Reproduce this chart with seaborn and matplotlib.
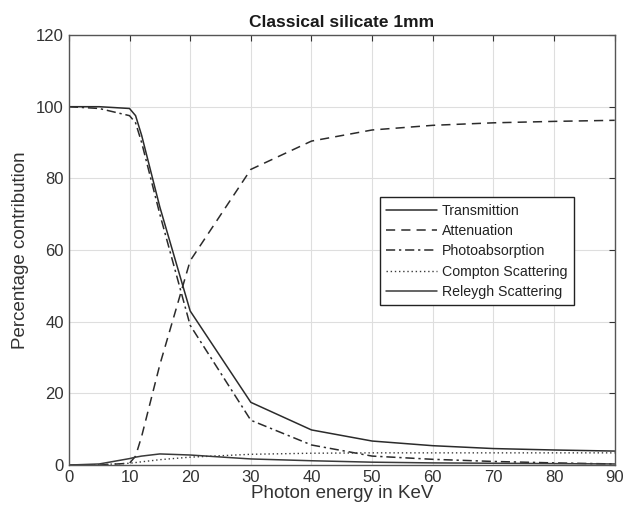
import matplotlib
matplotlib.use("Agg")
import matplotlib.pyplot as plt
import seaborn as sns
import pandas as pd

energy = [0, 5, 10, 11, 12, 15, 20, 30, 40, 50, 60, 70, 80, 90]
transmission = [100, 100, 99.5, 97.5, 92, 72, 43, 17.5, 9.8, 6.7, 5.4, 4.6, 4.2, 3.9]
attenuation = [0, 0, 0.5, 2.5, 8, 28, 57, 82.5, 90.4, 93.5, 94.8, 95.5, 95.9, 96.2]
photoabsorption = [100, 99.5, 97.5, 95.5, 90, 70, 39, 12.5, 5.6, 2.5, 1.6, 1.0, 0.6, 0.3]
compton = [0, 0.1, 0.5, 0.7, 0.9, 1.5, 2.2, 3.0, 3.3, 3.4, 3.4, 3.4, 3.4, 3.4]
rayleigh = [0, 0.3, 1.8, 2.2, 2.5, 3.1, 2.8, 1.7, 1.2, 0.8, 0.6, 0.5, 0.4, 0.3]

labels = ["Transmittion", "Attenuation", "Photoabsorption", "Compton Scattering", "Releygh Scattering"]
series = [transmission, attenuation, photoabsorption, compton, rayleigh]

sns.set_theme(style="white")
plt.rcParams['font.family'] = ['Liberation Sans', 'DejaVu Sans']

fig = plt.figure(figsize=(6.26, 5.15), dpi=100)
ax = fig.add_axes([0.110, 0.097, 0.872, 0.835])

styles = [
    dict(linestyle='-', color='#2b2b2b', lw=1.1),
    dict(linestyle=(0, (6, 4)), color='#2b2b2b', lw=1.1),
    dict(linestyle=(0, (6, 2.5, 1.5, 2.5)), color='#2b2b2b', lw=1.1),
    dict(linestyle=(0, (1, 2)), color='#3a3a3a', lw=1.0),
    dict(linestyle='-', color='#3a3a3a', lw=1.1),
]
for lab, vals, st in zip(labels, series, styles):
    df = pd.DataFrame({"x": energy, "y": vals})
    sns.lineplot(data=df, x="x", y="y", ax=ax, label=lab, **st)

ax.set_xlim(0, 90)
ax.set_ylim(0, 120)
ax.set_xticks(range(0, 91, 10))
ax.set_yticks(range(0, 121, 20))
ax.grid(True, color='#dedede', lw=0.8)
ax.tick_params(direction='in', top=True, right=True, length=4, color='#333333',
               labelsize=12, labelcolor='#333333', width=0.8)
for sp in ax.spines.values():
    sp.set_color('#555555')
    sp.set_linewidth(1.0)
ax.set_xlabel("Photon energy in KeV", fontsize=13.5, color='#333333', labelpad=0)
ax.set_ylabel("Percentage contribution", fontsize=13.5, color='#333333', labelpad=5)
ax.set_title("Classical silicate 1mm", fontsize=12.5, fontweight='bold', color='#1a1a1a', pad=6)

leg = ax.legend(loc='upper left', bbox_to_anchor=(0.570, 0.623), fontsize=10.2,
                frameon=True, fancybox=False, edgecolor='#222222', framealpha=1,
                borderpad=0.45, labelspacing=0.45, handlelength=3.6, handletextpad=0.3,
                borderaxespad=0)
leg.get_frame().set_linewidth(1.0)
for t in leg.get_texts():
    t.set_color('#222222')

fig.savefig("out.png", dpi=100)
